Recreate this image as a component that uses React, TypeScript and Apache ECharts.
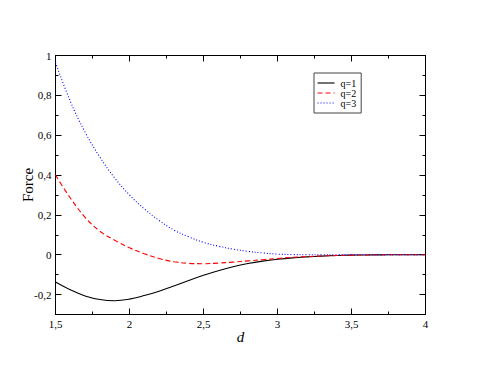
import React, { useEffect, useRef } from 'react';
import * as echarts from 'echarts';

const dValues = [1.5, 1.6, 1.7, 1.8, 1.9, 2.0, 2.1, 2.2, 2.3, 2.4, 2.5, 2.6, 2.7, 2.8, 2.9, 3.0, 3.1, 3.2, 3.3, 3.4, 3.5, 3.6, 3.7, 3.8, 3.9, 4.0];
const q1Force = [-0.137, -0.176, -0.207, -0.225, -0.231, -0.223, -0.205, -0.183, -0.157, -0.129, -0.103, -0.08, -0.06, -0.044, -0.032, -0.023, -0.016, -0.011, -0.007, -0.004, -0.002, -0.001, -0.0005, 0, 0, 0];
const q2Force = [0.4, 0.285, 0.188, 0.118, 0.073, 0.035, 0.005, -0.019, -0.035, -0.043, -0.045, -0.042, -0.037, -0.031, -0.025, -0.019, -0.013, -0.009, -0.006, -0.004, -0.002, -0.001, 0, 0, 0, 0];
const q3Force = [0.965, 0.77, 0.615, 0.49, 0.385, 0.3, 0.23, 0.172, 0.124, 0.09, 0.062, 0.043, 0.028, 0.017, 0.009, 0.003, 0.001, 0, 0, 0, 0, 0, 0, 0, 0, 0];
const seriesNames = ['q=1', 'q=2', 'q=3'];
const yMajorTicks = [-0.2, 0, 0.2, 0.4, 0.6, 0.8, 1];

const FONT = 'Liberation Serif, serif';
const fmt = (v: number) => String(Math.round(v * 100) / 100).replace('.', ',');

export default function App() {
  const ref = useRef<HTMLDivElement>(null);
  useEffect(() => {
    if (!ref.current) return;
    document.body.style.margin = '0';
    const chart = echarts.init(ref.current, undefined, { renderer: 'svg' });
    const lineAxis = { show: true, onZero: false, lineStyle: { color: '#000', width: 1 } };
    const xBase = {
      type: 'value' as const,
      min: 1.5,
      max: 4,
      interval: 0.5,
      axisLine: lineAxis,
      axisTick: { show: true, inside: true, length: 6, lineStyle: { color: '#000' } },
      minorTick: { show: true, splitNumber: 2, length: 3, lineStyle: { color: '#000' } },
      splitLine: { show: false },
      minorSplitLine: { show: false },
    };
    const yBase = {
      type: 'value' as const,
      min: -0.3,
      max: 1,
      interval: 0.1,
      splitLine: { show: false },
    };
    const yMajor = (position: 'left' | 'right', labels: boolean) => ({
      ...yBase,
      position,
      axisLine: lineAxis,
      axisTick: { show: true, inside: true, length: 6, customValues: yMajorTicks, lineStyle: { color: '#000' } },
      axisLabel: labels
        ? { show: true, customValues: yMajorTicks, formatter: fmt, margin: 4, color: '#000', fontFamily: FONT, fontSize: 11 }
        : { show: false },
    });
    const yMinor = (position: 'left' | 'right') => ({
      ...yBase,
      position,
      axisLine: { show: false },
      axisTick: { show: true, inside: true, length: 3, lineStyle: { color: '#000' } },
      axisLabel: { show: false },
    });
    const colors = ['#000000', '#ff0000', '#0000ff'];
    const types: any[] = ['solid', [5, 3], [1, 2]];
    const all = [q1Force, q2Force, q3Force];
    chart.setOption({
      animation: false,
      backgroundColor: '#fff',
      grid: { left: 55.5, right: 53.5, top: 55.5, bottom: 55.5, outerBoundsMode: 'none' },
      legend: {
        orient: 'vertical',
        left: 314,
        top: 73,
        padding: [5, 5, 5, 3],
        itemWidth: 17,
        itemHeight: 10,
        itemGap: 0,
        borderColor: '#444',
        borderWidth: 1,
        borderRadius: 0,
        itemStyle: { color: 'transparent', borderColor: 'transparent', borderWidth: 0 },
        lineStyle: { width: 1.1 },
        textStyle: { fontFamily: FONT, fontSize: 10, color: '#000', padding: [0, 0, 0, 1] },
        data: seriesNames,
      },
      xAxis: [
        {
          ...xBase,
          position: 'bottom',
          name: 'd',
          nameLocation: 'middle',
          nameGap: 15,
          nameMoveOverlap: false,
          nameTextStyle: { fontFamily: FONT, fontSize: 15, fontStyle: 'italic', color: '#000' },
          axisLabel: { show: true, formatter: fmt, margin: 4, color: '#000', fontFamily: FONT, fontSize: 11 },
        },
        { ...xBase, position: 'top', axisLabel: { show: false } },
      ],
      yAxis: [
        {
          ...yMajor('left', true),
          name: 'Force',
          nameLocation: 'middle',
          nameRotate: 90,
          nameGap: 20,
          nameMoveOverlap: false,
          nameTextStyle: { fontFamily: FONT, fontSize: 15, color: '#000' },
        },
        yMinor('left'),
        yMajor('right', false),
        yMinor('right'),
      ],
      series: all.map((vals, i) => ({
        name: seriesNames[i],
        type: 'line',
        xAxisIndex: 0,
        yAxisIndex: 0,
        data: dValues.map((d, j) => [d, vals[j]]),
        smooth: 0.4,
        symbol: 'none',
        showSymbol: false,
        itemStyle: { color: colors[i] },
        lineStyle: { color: colors[i], width: 1.1, type: types[i] },
      })),
    });
    return () => chart.dispose();
  }, []);
  return <div ref={ref} style={{ width: 479, height: 370 }} />;
}
